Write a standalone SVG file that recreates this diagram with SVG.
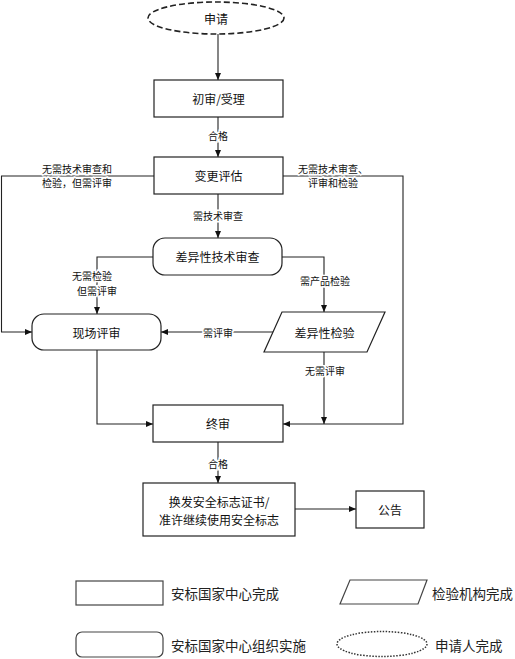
<svg xmlns="http://www.w3.org/2000/svg" width="515" height="659" viewBox="0 0 515 659">
<style>
.n{fill:#fff;stroke:#222;stroke-width:1.2}
.lg{fill:#fff;stroke:#444;stroke-width:1.2}
.c{fill:none;stroke:#222;stroke-width:1.1}
.t{font-family:"Noto Sans CJK SC","Noto Sans",sans-serif;font-size:12px;fill:#111;text-anchor:middle;dominant-baseline:central}
.l{font-family:"Noto Sans CJK SC","Noto Sans",sans-serif;font-size:10px;fill:#111;text-anchor:middle;dominant-baseline:central;stroke:#fff;stroke-width:3;paint-order:stroke}
.g{font-family:"Noto Sans CJK SC","Noto Sans",sans-serif;font-size:13.5px;fill:#222;dominant-baseline:central}
</style>
<defs>
<marker id="a" markerWidth="8" markerHeight="8" refX="7" refY="4" orient="auto" markerUnits="userSpaceOnUse">
<path d="M0,1 L7,4 L0,7 Z" fill="#111"/>
</marker>
</defs>
<rect width="515" height="659" fill="#fff"/>
<g id="connectors">
<line class="c" x1="218" y1="34" x2="218" y2="80" marker-end="url(#a)"/>
<line class="c" x1="218" y1="117" x2="218" y2="157" marker-end="url(#a)"/>
<line class="c" x1="218" y1="194" x2="218" y2="238" marker-end="url(#a)"/>
<polyline class="c" points="154,176 1.5,176 1.5,332 32,332" marker-end="url(#a)"/>
<polyline class="c" points="283,176 403,176 403,424 283,424" marker-end="url(#a)"/>
<polyline class="c" points="153,257 97,257 97,314" marker-end="url(#a)"/>
<polyline class="c" points="282,257 324,257 324,312" marker-end="url(#a)"/>
<line class="c" x1="273" y1="332" x2="161" y2="332" marker-end="url(#a)"/>
<line class="c" x1="324" y1="352" x2="324" y2="424" marker-end="url(#a)"/>
<polyline class="c" points="97,350 97,424 153,424" marker-end="url(#a)"/>
<line class="c" x1="218" y1="442" x2="218" y2="483" marker-end="url(#a)"/>
<line class="c" x1="295" y1="509" x2="356" y2="509" marker-end="url(#a)"/>
<text class="l" x="218" y="135">合格</text>
<text class="l" x="77" y="168">无需技术审查和</text>
<text class="l" x="77" y="182">检验，但需评审</text>
<text class="l" x="333" y="168">无需技术审查、</text>
<text class="l" x="333" y="182">评审和检验</text>
<text class="l" x="218" y="215">需技术审查</text>
<text class="l" x="92" y="275.5">无需检验</text>
<text class="l" x="97" y="290">但需评审</text>
<text class="l" x="325" y="280">需产品检验</text>
<text class="l" x="218" y="332">需评审</text>
<text class="l" x="325" y="370">无需评审</text>
<text class="l" x="218" y="463">合格</text>
</g>
<g id="n-apply">
<ellipse cx="216" cy="18" rx="68" ry="16" fill="#fff" stroke="#222" stroke-width="1.6" stroke-dasharray="6 3"/>
<text class="t" x="216" y="18">申请</text>
</g>
<g id="n-initial">
<rect class="n" x="154" y="80" width="129" height="37"/>
<text class="t" x="218.5" y="98.5">初审/受理</text>
</g>
<g id="n-assess">
<rect class="n" x="154" y="157" width="129" height="37"/>
<text class="t" x="218.5" y="175.5">变更评估</text>
</g>
<g id="n-techreview">
<rect class="n" x="153" y="238" width="129" height="37" rx="12"/>
<text class="t" x="217.5" y="256.5">差异性技术审查</text>
</g>
<g id="n-onsite">
<rect class="n" x="32" y="314" width="129" height="36" rx="12"/>
<text class="t" x="96.5" y="332">现场评审</text>
</g>
<g id="n-test">
<polygon class="n" points="282,312 385,312 367,352 264,352"/>
<text class="t" x="324.5" y="332">差异性检验</text>
</g>
<g id="n-final">
<rect class="n" x="153" y="405" width="130" height="37"/>
<text class="t" x="218" y="423.5">终审</text>
</g>
<g id="n-cert">
<rect class="n" x="143" y="483" width="152" height="53"/>
<text class="t" x="219" y="501">换发安全标志证书/</text>
<text class="t" x="219" y="519">准许继续使用安全标志</text>
</g>
<g id="n-notice">
<rect class="n" x="356" y="491" width="68" height="37"/>
<text class="t" x="390" y="509.5">公告</text>
</g>
<g id="legend">
<rect class="lg" x="76" y="581" width="87" height="24"/>
<text class="g" x="171" y="593">安标国家中心完成</text>
<polygon class="lg" points="350,580 427,580 418,604 340,604"/>
<text class="g" x="432" y="593">检验机构完成</text>
<rect class="lg" x="76" y="632" width="87" height="25" rx="6"/>
<text class="g" x="171" y="645">安标国家中心组织实施</text>
<ellipse cx="382" cy="644" rx="45" ry="12.5" fill="#fff" stroke="#333" stroke-width="1.5" stroke-dasharray="1.5 1.5"/>
<text class="g" x="435" y="645">申请人完成</text>
</g>
</svg>
